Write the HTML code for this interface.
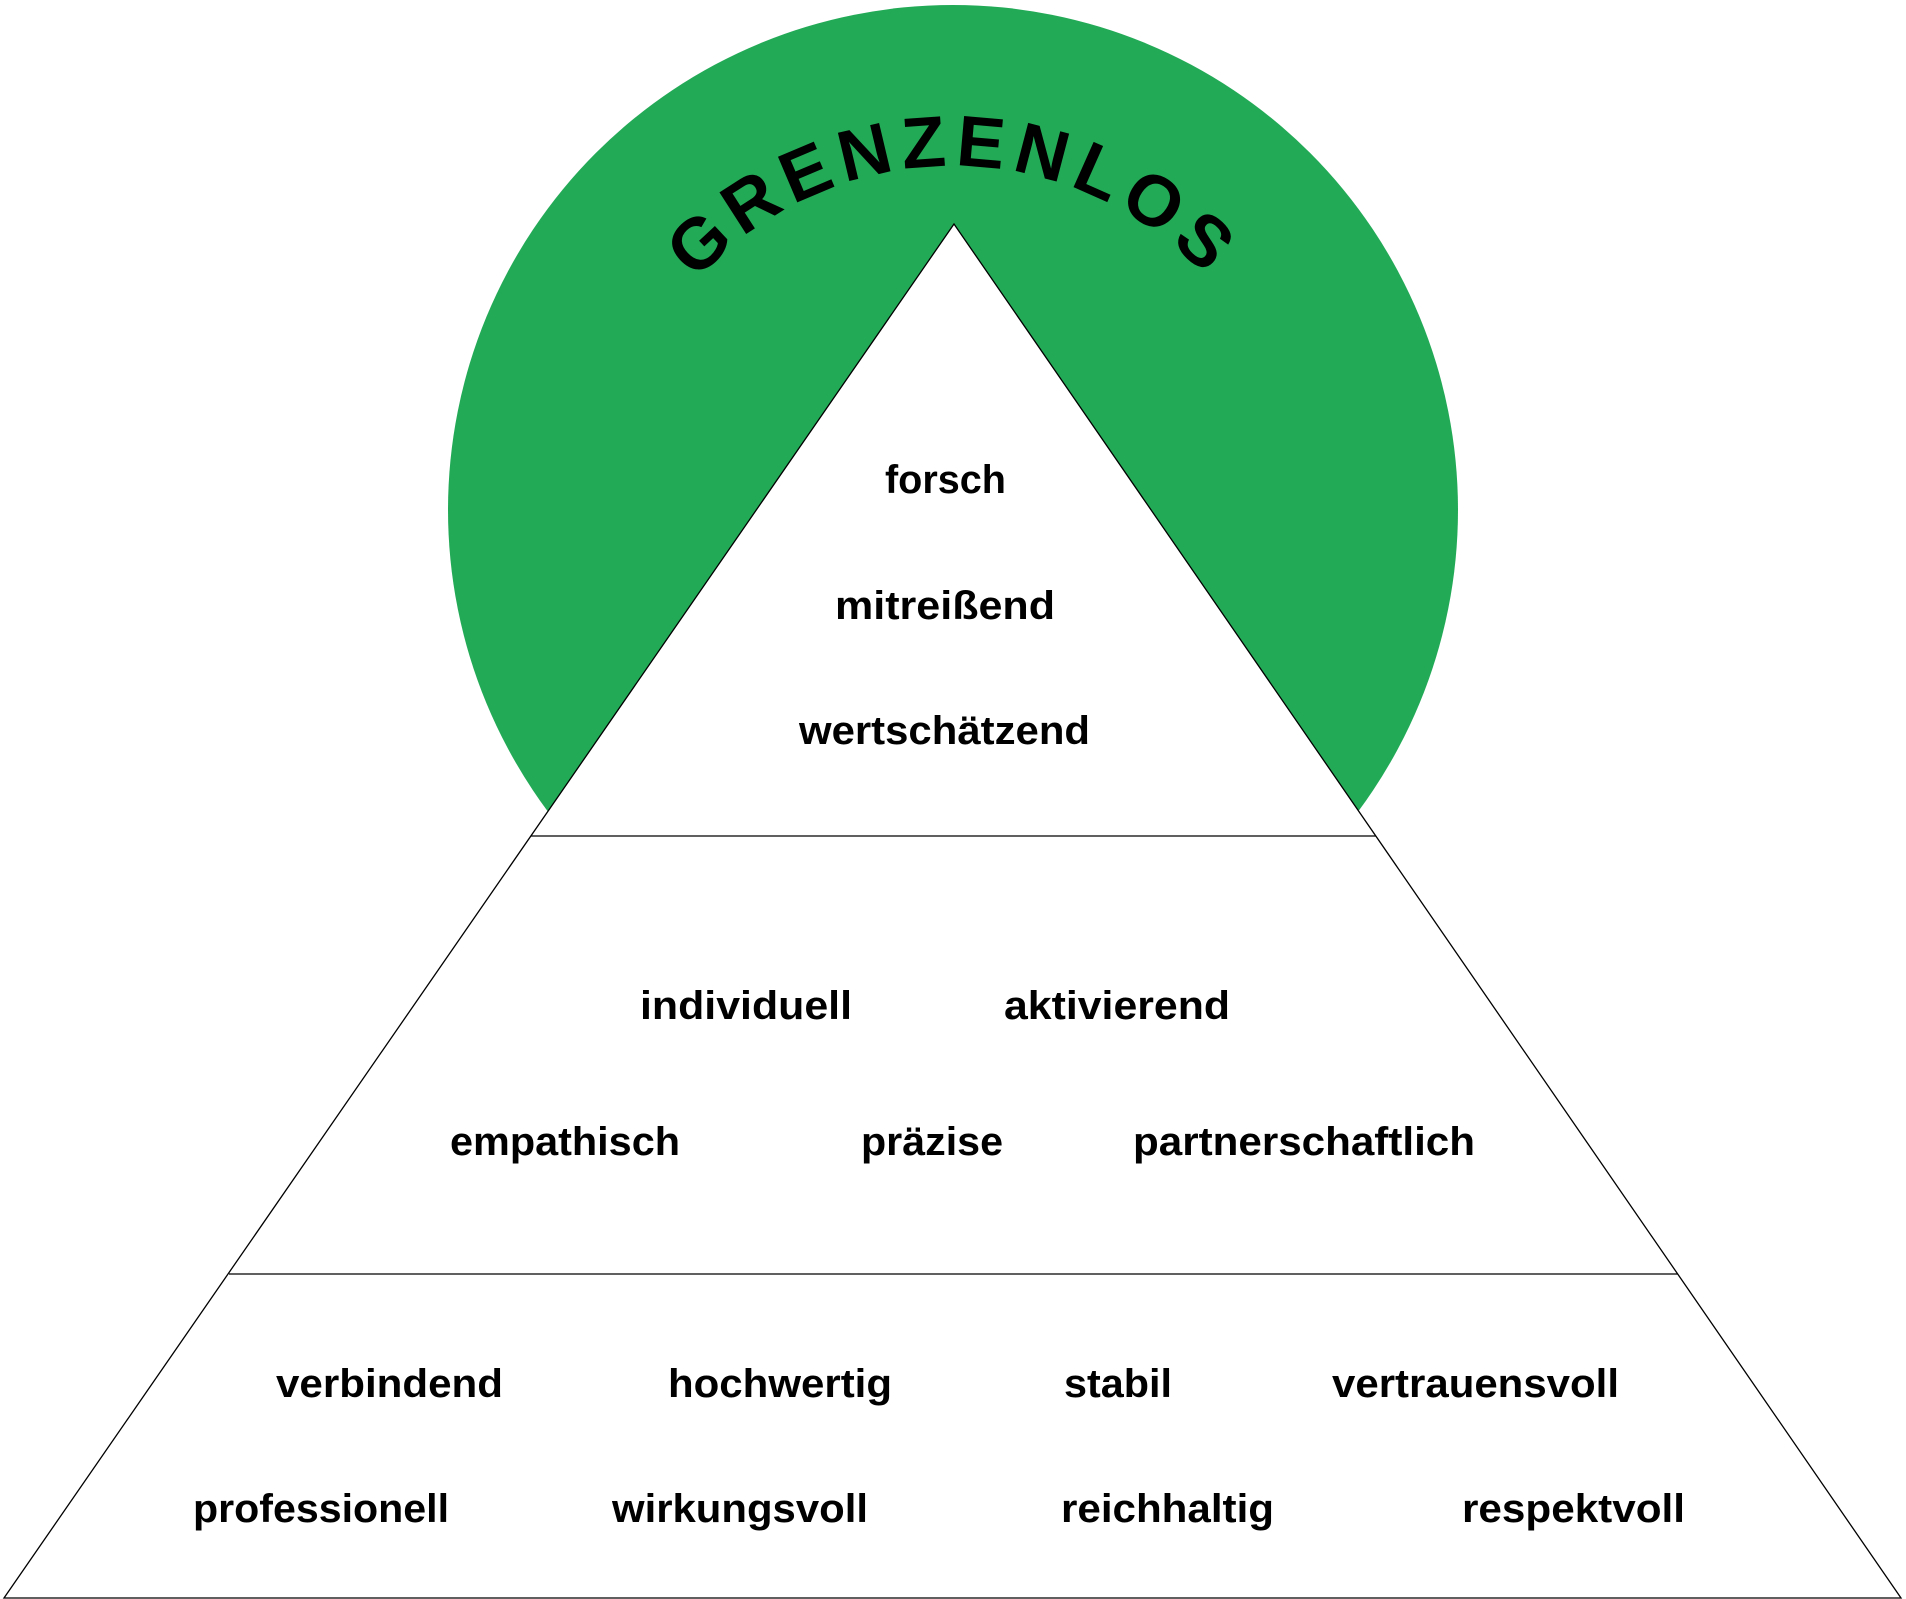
<!DOCTYPE html>
<html><head><meta charset="utf-8"><style>
html,body{margin:0;padding:0;background:#fff;}
svg{display:block;}
text{font-family:"Liberation Sans",sans-serif;font-weight:bold;fill:#000;}
</style></head><body>
<svg width="1906" height="1599" viewBox="0 0 1906 1599" xmlns="http://www.w3.org/2000/svg">
<circle cx="953" cy="510" r="505" fill="#23AA57"/>
<polygon points="954,224 4,1598 1901,1598" fill="#fff" stroke="#000" stroke-width="1.3"/>
<line x1="531" y1="836" x2="1376" y2="836" stroke="#000" stroke-width="1.3"/>
<line x1="229" y1="1274" x2="1678" y2="1274" stroke="#000" stroke-width="1.3"/>
<path d="M 609 510 A 344 344 0 0 1 1297 510" fill="none" id="arc2"/>
<text font-size="72" letter-spacing="8"><textPath href="#arc2" startOffset="50%" text-anchor="middle">GRENZENLOS</textPath></text>
<g font-size="40" transform="translate(-2,0)">
<text x="887" y="493" textLength="121" lengthAdjust="spacingAndGlyphs">forsch</text>
<text x="837" y="619" textLength="220" lengthAdjust="spacingAndGlyphs">mitreißend</text>
<text x="801" y="744" textLength="291" lengthAdjust="spacingAndGlyphs">wertschätzend</text>
<text x="642" y="1019" textLength="212" lengthAdjust="spacingAndGlyphs">individuell</text>
<text x="1006" y="1019" textLength="226" lengthAdjust="spacingAndGlyphs">aktivierend</text>
<text x="452" y="1155" textLength="230" lengthAdjust="spacingAndGlyphs">empathisch</text>
<text x="863" y="1155" textLength="142" lengthAdjust="spacingAndGlyphs">präzise</text>
<text x="1135" y="1155" textLength="342" lengthAdjust="spacingAndGlyphs">partnerschaftlich</text>
<text x="278" y="1397" textLength="227" lengthAdjust="spacingAndGlyphs">verbindend</text>
<text x="670" y="1397" textLength="224" lengthAdjust="spacingAndGlyphs">hochwertig</text>
<text x="1066" y="1397" textLength="108" lengthAdjust="spacingAndGlyphs">stabil</text>
<text x="1334" y="1397" textLength="287" lengthAdjust="spacingAndGlyphs">vertrauensvoll</text>
<text x="195" y="1522" textLength="256" lengthAdjust="spacingAndGlyphs">professionell</text>
<text x="614" y="1522" textLength="256" lengthAdjust="spacingAndGlyphs">wirkungsvoll</text>
<text x="1063" y="1522" textLength="213" lengthAdjust="spacingAndGlyphs">reichhaltig</text>
<text x="1464" y="1522" textLength="223" lengthAdjust="spacingAndGlyphs">respektvoll</text>
</g>
</svg>
</body></html>
